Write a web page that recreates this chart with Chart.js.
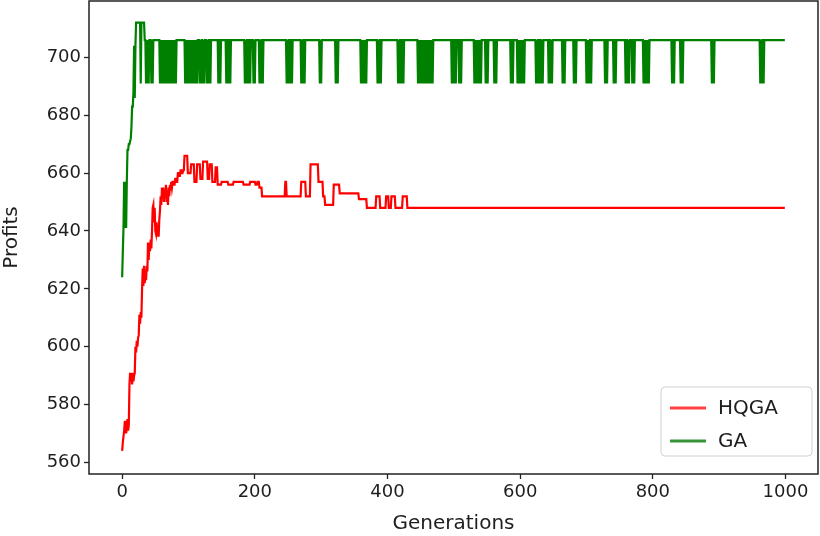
<!DOCTYPE html>
<html>
<head>
<meta charset="utf-8">
<script src="https://cdn.jsdelivr.net/npm/chart.js@4.4.0/dist/chart.umd.min.js"></script>
<style>
  html, body { margin: 0; padding: 0; background: #ffffff; }
  #wrap { width: 820px; height: 536px; }
</style>
</head>
<body>
<div id="wrap"><canvas id="c" width="820" height="536"></canvas></div>
<script>
// ---------------- data ----------------
const generationCount = 1000;
const xTicks = [0, 200, 400, 600, 800, 1000];
const yTicks = [560, 580, 600, 620, 640, 660, 680, 700];
const seriesNames = ['HQGA', 'GA'];

// HQGA: change points (generation, profit); value holds until next change point
const hqgaGen = [0,1,2,3,4,5,6,7,8,9,10,11,12,13,14,15,16,17,18,19,20,21,22,23,24,25,26,27,28,29,30,31,32,33,34,35,36,37,38,39,40,41,42,43,44,45,46,47,48,49,50,51,52,53,54,55,56,57,58,59,60,61,62,63,64,65,66,67,68,69,70,71,72,73,74,75,76,78,80,82,84,86,88,90,92,94,
  99,104,109,113,118,122,129,132,136,141,144,150,160,168,183,193,201,204,207,211,246,248,270,277,284,296,303,306,319,328,357,369,383,389,398,402,406,412,423,430];
const hqgaProfit = [564,567,569,571,574,574,570,572,575,571,573,587,591,588,591,587,591,588,590,591,600,598,602,600,603,604,611,608,612,610,620,627,621,628,622,625,623,628,626,636,630,636,633,637,634,640,648,649,643,648,640,639,643,638,641,638,644,647,652,649,655,652,655,650,654,652,656,650,654,649,655,652,656,654,657,655,657,656,658,657,660,659,661,660,661,666,
  660,663,657,663,658,664,658,663,657,662,656,657,656,657,656,657,656,657,655,652,657,652,657,652,663,657,652,649,656,653,651,648,652,648,652,648,652,648,652,648];

// GA: early change points, then a plateau with one-generation drops
const gaGen = [0,1,2,3,4,5,6,7,8,10,12,13,14,15,17,18,19,20,21,28,29,34];
const gaProfit = [624,633,641,657,641,657,641,657,668,670,671,672,676,683,688,704,686,704,712,691,712,706];
const gaDropValue = 691;
const gaDropGens = [36,38,40,44,46,
  57,59,61,63,65,67,69,71,73,75,77,79,81,
  95,97,99,101,103,105,107,109,111,113,
  117,119,122,124,128,130,133,
  145,148,157,160,163,
  185,187,190,193,198,200,207,209,212,
  248,250,253,256,270,272,275,
  298,300,322,325,
  360,362,364,366,368,
  385,387,390,
  416,418,421,424,
  446,448,450,452,454,456,458,460,462,464,466,468,
  497,500,503,508,511,
  531,533,535,537,539,541,548,551,561,564,
  586,589,596,598,600,602,604,606,
  624,626,629,632,634,643,646,648,664,667,681,684,
  700,702,704,707,728,731,741,744,
  759,762,764,769,772,786,788,790,792,794,
  829,832,842,845,889,892,962,964,967];

// ---------------- build series ----------------
function holdSeries(gens, vals) {
  const out = [];
  let k = 0;
  for (let g = 0; g < generationCount; g++) {
    while (k + 1 < gens.length && gens[k + 1] <= g) k++;
    out.push({ x: g, y: vals[k] });
  }
  return out;
}
const hqgaData = holdSeries(hqgaGen, hqgaProfit);
const gaData = holdSeries(gaGen, gaProfit);
const dropSet = new Set(gaDropGens);
gaData.forEach(p => { if (dropSet.has(p.x)) p.y = gaDropValue; });

// ---------------- styling ----------------
const FAMILY = "'DejaVu Sans', sans-serif";
const TICK_FONT = { family: FAMILY, size: 18 };
const TITLE_FONT = { family: FAMILY, size: 20 };
const TEXT = '#1e1e1e';
const plotColors = ['#ff0000', '#008000'];
const legendColors = ['rgba(255,30,30,0.85)', 'rgba(20,130,20,0.85)'];

const framePlugin = {
  id: 'frameAndLegend',
  afterDraw(chart) {
    const { ctx, chartArea: ca } = chart;
    ctx.save();
    ctx.strokeStyle = '#222';
    ctx.lineWidth = 1.5;
    ctx.strokeRect(ca.left, ca.top, ca.right - ca.left, ca.bottom - ca.top);

    // legend box (lower right, inside the axes)
    const w = 151, h = 69;
    const bx = ca.right - 6 - w, by = ca.bottom - 18 - h;
    const r = 4;
    ctx.beginPath();
    ctx.moveTo(bx + r, by);
    ctx.lineTo(bx + w - r, by); ctx.quadraticCurveTo(bx + w, by, bx + w, by + r);
    ctx.lineTo(bx + w, by + h - r); ctx.quadraticCurveTo(bx + w, by + h, bx + w - r, by + h);
    ctx.lineTo(bx + r, by + h); ctx.quadraticCurveTo(bx, by + h, bx, by + h - r);
    ctx.lineTo(bx, by + r); ctx.quadraticCurveTo(bx, by, bx + r, by);
    ctx.closePath();
    ctx.fillStyle = 'rgba(255,255,255,0.85)';
    ctx.fill();
    ctx.strokeStyle = '#d0d0d0';
    ctx.lineWidth = 1;
    ctx.stroke();

    ctx.font = `${TITLE_FONT.size}px ${FAMILY}`;
    ctx.textBaseline = 'middle';
    ctx.textAlign = 'left';
    chart.data.datasets.forEach((ds, i) => {
      const y = by + 21 + i * 33;
      ctx.strokeStyle = legendColors[i];
      ctx.lineWidth = 2.8;
      ctx.beginPath();
      ctx.moveTo(bx + 9, y);
      ctx.lineTo(bx + 45, y);
      ctx.stroke();
      ctx.fillStyle = TEXT;
      ctx.fillText(ds.label, bx + 57, y + 1);
    });
    ctx.restore();
  }
};

const lineStyle = { borderWidth: 2.2, pointRadius: 0, tension: 0, fill: false, borderDash: [100000, 0] };

new Chart(document.getElementById('c'), {
  type: 'line',
  data: {
    datasets: [
      Object.assign({ label: seriesNames[0], data: hqgaData, borderColor: plotColors[0] }, lineStyle),
      Object.assign({ label: seriesNames[1], data: gaData, borderColor: plotColors[1] }, lineStyle)
    ]
  },
  options: {
    responsive: false,
    animation: false,
    devicePixelRatio: 1,
    layout: { padding: { left: 0, right: 2, top: 1, bottom: 0 } },
    plugins: { legend: { display: false }, tooltip: { enabled: false } },
    scales: {
      x: {
        type: 'linear',
        min: -50, max: 1049,
        afterBuildTicks: s => { s.ticks = xTicks.map(v => ({ value: v })); },
        afterFit: s => { s.height = 62; s.paddingLeft = 0; s.paddingRight = 0; },
        border: { display: false },
        grid: { drawOnChartArea: false, drawTicks: true, tickLength: 5, tickColor: '#222', tickWidth: 1.3 },
        ticks: { font: TICK_FONT, color: TEXT, padding: 3, maxRotation: 0, autoSkip: false, includeBounds: false, callback: v => String(v) },
        title: { display: true, text: 'Generations', font: TITLE_FONT, color: TEXT, padding: { top: 0, bottom: 0 } }
      },
      y: {
        type: 'linear',
        min: 556, max: 719.5,
        afterBuildTicks: s => { s.ticks = yTicks.map(v => ({ value: v })); },
        afterFit: s => { s.width = 89; s.paddingTop = 0; s.paddingBottom = 0; },
        border: { display: false },
        grid: { drawOnChartArea: false, drawTicks: true, tickLength: 5, tickColor: '#222', tickWidth: 1.3 },
        ticks: { font: TICK_FONT, color: TEXT, padding: 3, autoSkip: false, includeBounds: false, callback: v => String(v) },
        title: { display: true, text: 'Profits', font: TITLE_FONT, color: TEXT, padding: { top: 0, bottom: 0 } }
      }
    }
  },
  plugins: [framePlugin]
});
</script>
</body>
</html>
